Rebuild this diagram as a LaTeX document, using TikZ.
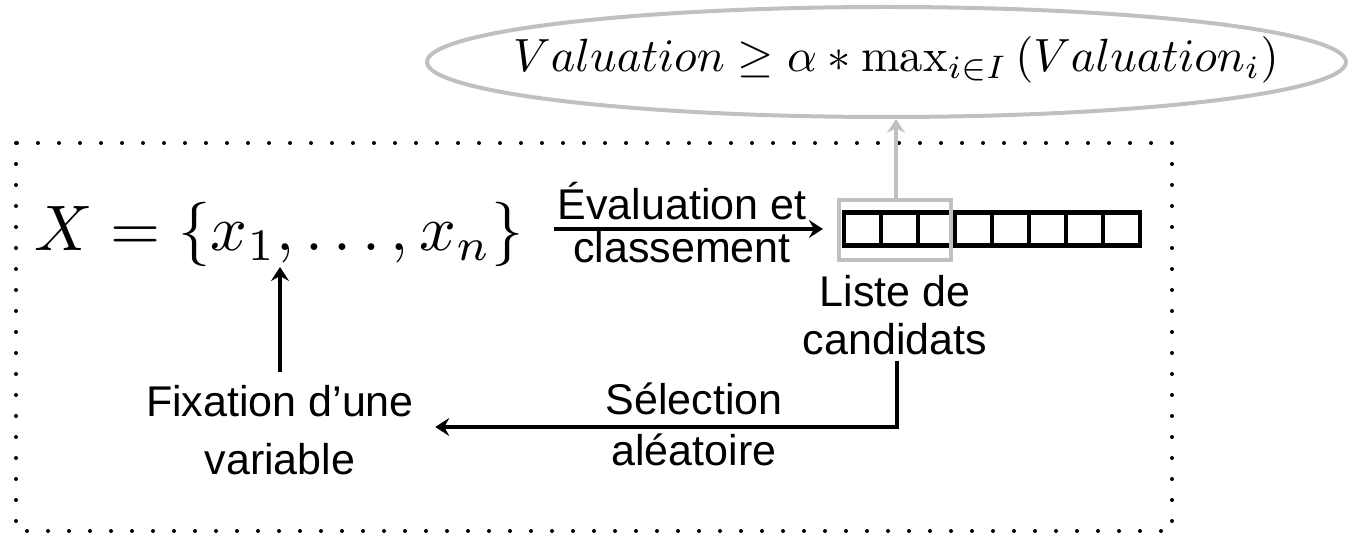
\documentclass[tikz,border=0pt]{standalone}
\usepackage{fontspec}
\setsansfont{Liberation Sans}
\usetikzlibrary{arrows.meta,calc,shapes.geometric}
\definecolor{lgray}{RGB}{192,192,192}

\begin{document}
\begin{tikzpicture}[x=0.5pt,y=-0.5pt,
  lbl/.style={font=\sffamily\fontsize{21.5}{24}\selectfont, inner sep=0pt, anchor=base},
  arr/.style={line width=2pt,-{Stealth[length=7pt,width=9pt,inset=2.5pt]}},
  garr/.style={arr,draw=lgray,fill=lgray},
  cell/.style={draw,line width=2.1pt,minimum width=18.5pt,minimum height=16.5pt,inner sep=0pt},
  frame/.style={line width=2pt,line cap=round,dash pattern=on 0pt off 10.5pt},
  crit/.style={ellipse,draw=lgray,line width=2pt,minimum width=459.5pt,minimum height=55pt,inner sep=0pt}
]
\useasboundingbox (0,0) rectangle (1348,533);

% dotted frame around the construction step
\draw[frame] (16,143) rectangle (1172,531);

% set of variables
\node[inner sep=0pt,anchor=base west] (X) at (34,251)
  {\scalebox{3.22}{$X=\{x_1,\ldots,x_n\}$}};
\coordinate (xone) at (280,267);

% candidate list
\foreach \k in {1,...,8}
  \node[cell] (c\k) at ({862.5+37*(\k-1)},229) {};

% restricted candidate list and its criterion
\node[draw=lgray,line width=2pt,minimum width=56pt,minimum height=30pt,inner sep=0pt] (rcl) at (895,230) {};
\node[crit] (crit) at (886.5,62) {};
\node[inner sep=0pt,anchor=base] (critlbl) at (896,72)
  {\scalebox{2.33}{$Valuation \geq \alpha * \max_{i\in I}\left(Valuation_i\right)$}};
\coordinate (gx) at (896,0);
\draw[garr] (rcl.north -| gx) -- (crit.south -| gx);

% labels
\node[lbl] (ev1) at (682,220) {Évaluation et};
\node[lbl] (ev2) at (682,263) {classement};
\node[lbl] (lst1) at (895,307) {Liste de};
\node[lbl] (cand) at (895,355) {candidats};
\node[lbl] (fix1) at (280,417) {Fixation d’une};
\node[lbl] (fix2) at (280,475) {variable};
\node[lbl] (sel1) at (694,415) {Sélection};
\node[lbl] (sel2) at (694,466) {aléatoire};

% connectors
\draw[arr] ($(X.east|-c1.west)+(30,0)$) -- ($(c1.west)+(-19,0)$);
\draw[arr] ($(fix1.north)+(0,-13)$) -- (xone);
\coordinate (turn) at (897,427);
\draw[arr] ($(cand.south -| turn)+(0,5)$) -- (turn) -- ($(turn -| fix1.east)+(21,0)$);
\end{tikzpicture}
\end{document}
